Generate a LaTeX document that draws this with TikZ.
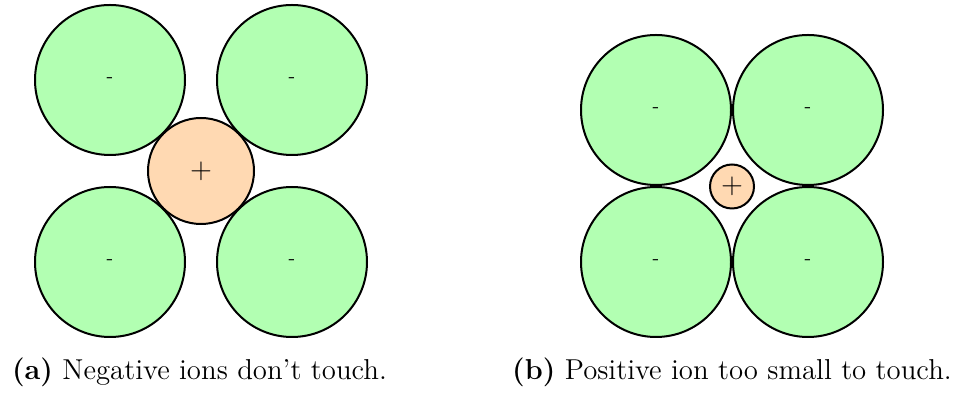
\documentclass[tikz,border=0pt]{standalone}
\begin{document}
\begin{tikzpicture}[x=0.5pt,y=-0.5pt,
  negion/.style={circle,draw=black,line width=1pt,fill=green!30,inner sep=0pt,minimum size=75pt,font=\fontsize{10}{12}\selectfont},
  posion/.style={circle,draw=black,line width=1pt,fill=orange!30,inner sep=0pt,font=\Large},
  captext/.style={anchor=base,inner sep=0pt,font=\fontsize{14.4}{17}\selectfont}]
\useasboundingbox (0,0) rectangle (964,394);
% panel (a)
\node[negion] (a1) at (110,80) {-};
\node[negion] (a2) at (292,80) {-};
\node[negion] (a3) at (110,262) {-};
\node[negion] (a4) at (292,262) {-};
\node[posion,minimum size=53pt] (ap) at (201,171) {$+$};
\node[captext] (ca) at (199.5,380) {\textbf{(a)} Negative ions don’t touch.};
% panel (b)
\node[negion] (b1) at (656,110) {-};
\node[negion] (b2) at (808,110) {-};
\node[negion] (b3) at (656,262) {-};
\node[negion] (b4) at (808,262) {-};
\node[posion,minimum size=22pt] (bp) at (732,186.5) {$+$};
\node[captext] (cb) at (732,380) {\textbf{(b)} Positive ion too small to touch.};
\end{tikzpicture}
\end{document}
